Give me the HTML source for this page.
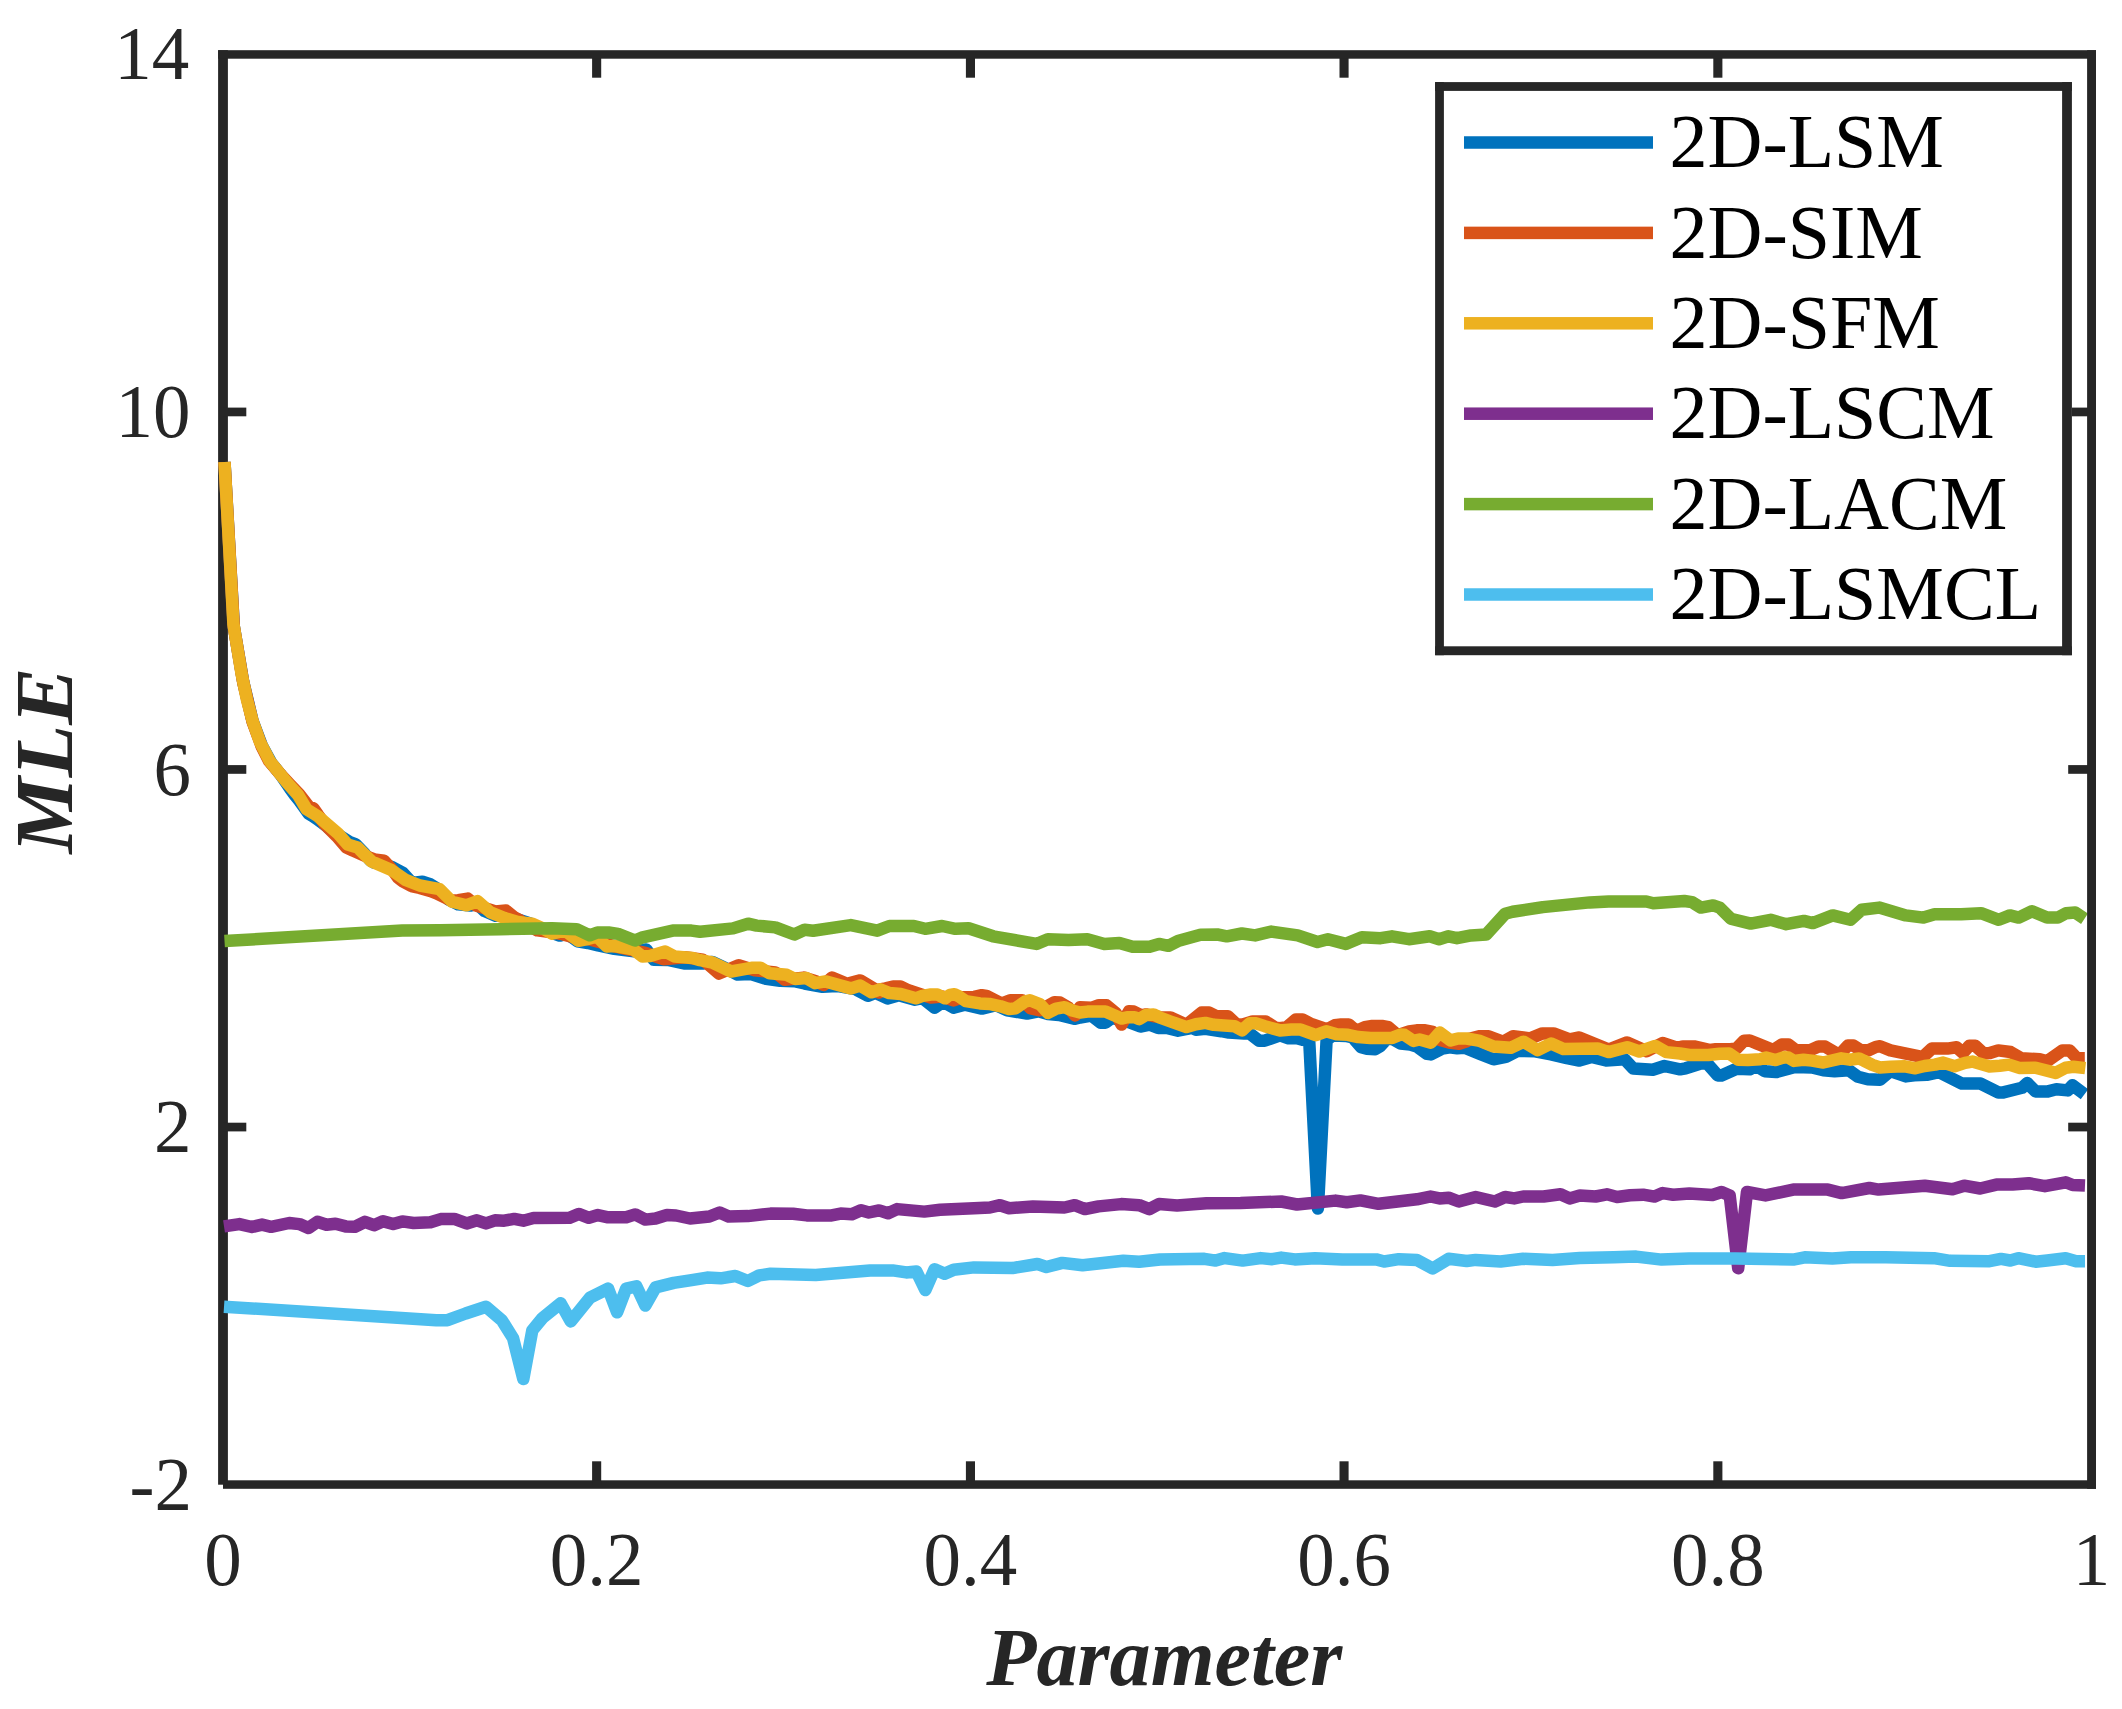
<!DOCTYPE html>
<html lang="en"><head><meta charset="utf-8"><title>MLE vs Parameter</title>
<style>html,body{margin:0;padding:0;background:#fff;width:2122px;height:1709px;overflow:hidden}svg{display:block}text{font-family:"Liberation Serif","Times New Roman",serif}</style></head><body>
<svg width="2122" height="1709" viewBox="0 0 2122 1709">
<rect width="2122" height="1709" fill="#fff"/>
<g fill="#262626">
<rect x="218.1" y="50.2" width="9.8" height="1434.5"/>
<rect x="223" y="1480.3" width="1873" height="8.5"/>
<rect x="592.1" y="1461.3" width="9.1" height="23.3"/>
<rect x="592.1" y="54.4" width="9.1" height="23.3"/>
<rect x="965.9" y="1461.3" width="9.1" height="23.3"/>
<rect x="965.9" y="54.4" width="9.1" height="23.3"/>
<rect x="1339.5" y="1461.3" width="9.1" height="23.3"/>
<rect x="1339.5" y="54.4" width="9.1" height="23.3"/>
<rect x="1713.3" y="1461.3" width="9.1" height="23.3"/>
<rect x="1713.3" y="54.4" width="9.1" height="23.3"/>
<rect x="223.0" y="407.6" width="23.3" height="8.7"/>
<rect x="2068.2" y="407.6" width="23.3" height="8.7"/>
<rect x="223.0" y="765.1" width="23.3" height="8.7"/>
<rect x="2068.2" y="765.1" width="23.3" height="8.7"/>
<rect x="223.0" y="1122.7" width="23.3" height="8.7"/>
<rect x="2068.2" y="1122.7" width="23.3" height="8.7"/>
</g>
<g>
<polyline points="224.5,462.0 233.8,626.4 243.2,681.7 252.6,721.0 261.9,745.7 271.2,762.8 280.0,773.8 289.9,788.3 295.0,795.3 299.3,800.6 308.6,813.6 313.6,816.6 318.0,819.8 327.4,826.8 333.0,831.4 350.0,842.3 355.4,844.1 364.8,853.9 370.0,860.1 374.1,862.5 383.4,864.1 392.8,867.5 402.7,872.8 412.0,883.0 422.5,881.8 430.2,884.2 440.0,890.4 448.9,899.7 458.2,904.4 470.0,905.6 476.9,903.7 484.7,911.1 495.6,915.8 500.0,915.5 505.0,917.0 517.0,919.1 530.0,923.5 520.0,923.0 535.0,926.0 547.0,931.0 559.6,935.6 567.1,933.7 577.5,941.3 588.0,943.0 598.2,945.5 614.3,948.8 634.0,951.2 646.3,949.5 653.8,959.7 668.0,960.0 684.0,963.4 703.8,963.4 712.3,962.0 725.0,968.0 737.7,974.6 750.9,974.1 766.0,978.8 780.1,980.7 794.3,981.2 804.6,983.5 822.5,986.8 836.7,985.9 855.5,989.2 867.8,995.8 875.3,993.0 880.0,994.8 887.5,998.5 898.9,995.2 914.9,999.7 922.4,998.1 934.7,1007.7 943.2,1001.8 953.5,1007.7 964.8,1004.7 981.8,1008.6 995.9,1005.1 1007.2,1010.3 1027.0,1013.6 1038.3,1011.3 1048.0,1014.0 1059.0,1015.0 1075.1,1018.8 1080.0,1017.5 1091.3,1015.6 1100.7,1022.7 1105.4,1022.7 1112.0,1018.0 1129.0,1022.2 1140.3,1026.5 1149.7,1024.6 1158.2,1027.9 1166.7,1027.9 1178.0,1030.7 1192.2,1027.9 1195.9,1029.8 1205.4,1028.8 1221.4,1031.2 1228.9,1032.6 1244.0,1033.5 1249.7,1033.5 1259.1,1040.7 1264.7,1040.7 1280.0,1035.4 1288.5,1038.3 1296.0,1037.9 1302.6,1039.8 1309.2,1040.5 1317.9,1208.5 1326.6,1040.0 1332.8,1035.5 1346.0,1036.0 1352.6,1037.4 1361.1,1047.3 1366.7,1048.7 1375.2,1049.2 1379.9,1046.4 1386.5,1039.3 1392.2,1038.8 1400.6,1043.5 1410.1,1044.5 1416.7,1046.4 1427.0,1053.9 1430.8,1054.4 1442.1,1048.7 1449.7,1047.3 1457.2,1048.2 1464.7,1047.8 1480.0,1053.9 1493.5,1059.3 1505.8,1056.9 1518.0,1050.7 1535.2,1051.3 1551.1,1054.4 1567.0,1058.1 1579.3,1060.5 1591.5,1056.9 1606.2,1060.5 1624.6,1059.3 1633.2,1068.5 1652.8,1069.7 1664.4,1066.0 1680.0,1069.3 1685.7,1068.3 1700.7,1063.6 1707.3,1063.6 1717.7,1075.4 1721.5,1075.4 1736.6,1068.8 1749.7,1069.3 1756.3,1066.0 1764.8,1071.2 1776.1,1072.1 1795.0,1066.9 1812.0,1067.4 1823.3,1070.2 1834.6,1071.2 1848.7,1070.2 1858.1,1076.8 1867.6,1079.2 1880.0,1079.8 1890.4,1071.0 1905.9,1076.4 1914.2,1075.3 1926.7,1074.8 1939.1,1072.2 1961.9,1083.6 1980.6,1083.6 1998.2,1092.4 2003.4,1092.4 2022.0,1087.8 2027.2,1083.0 2035.5,1091.4 2048.0,1091.4 2056.3,1089.3 2067.7,1090.4 2072.5,1085.2 2084.5,1094.2" fill="none" stroke="#0072BD" stroke-width="12.5" stroke-linejoin="round" stroke-linecap="butt"/>
<polyline points="224.5,462.0 233.8,626.8 243.2,682.3 252.6,721.9 261.9,747.0 269.0,761.0 280.6,774.5 289.9,784.5 299.3,794.4 308.6,806.3 313.6,808.5 318.0,814.9 325.0,824.6 336.7,836.3 346.1,847.3 353.0,850.6 364.8,855.7 374.1,859.4 384.0,860.7 392.8,870.4 398.0,877.7 402.1,881.0 411.5,886.1 419.7,887.9 430.2,890.9 436.6,893.3 452.0,900.8 458.2,900.1 467.7,898.6 476.0,905.5 490.0,909.8 495.6,911.4 506.0,910.6 514.3,917.4 520.0,920.4 520.0,921.0 537.4,930.4 550.0,932.0 562.4,934.2 576.0,938.0 589.7,939.4 603.0,943.0 617.1,946.9 628.4,949.3 645.4,952.8 663.3,959.2 685.0,957.3 702.8,959.6 718.9,973.6 738.6,965.3 754.7,970.3 775.4,972.4 784.8,979.8 803.7,977.6 815.0,980.9 823.5,984.9 832.0,977.6 847.0,983.7 860.2,980.4 874.4,988.9 879.1,992.5 880.0,989.5 885.7,988.4 893.2,986.5 900.7,986.5 908.3,990.3 919.6,994.0 930.9,997.6 942.0,996.5 953.5,1000.4 962.0,997.3 974.3,996.9 981.8,995.2 986.5,995.9 1001.6,1003.5 1010.1,1000.3 1022.3,1000.3 1030.8,1008.4 1040.2,1010.3 1054.4,1002.2 1060.0,1002.5 1068.5,1007.7 1075.1,1015.5 1080.0,1007.3 1091.3,1007.8 1098.9,1005.2 1106.4,1005.2 1115.8,1013.0 1121.5,1024.6 1129.0,1011.3 1133.7,1011.6 1141.3,1015.3 1146.0,1014.4 1153.0,1016.0 1160.1,1017.2 1170.5,1017.4 1186.5,1024.8 1201.6,1012.5 1209.1,1012.5 1216.7,1016.3 1228.0,1016.3 1236.5,1024.3 1242.1,1024.8 1252.5,1021.5 1265.7,1021.5 1275.1,1027.6 1280.0,1028.1 1286.6,1027.2 1296.0,1019.4 1302.6,1019.4 1311.1,1023.9 1324.3,1028.4 1329.0,1028.2 1334.7,1025.3 1341.3,1024.4 1348.8,1024.4 1356.3,1031.0 1364.8,1027.2 1372.4,1025.9 1381.8,1025.9 1388.4,1027.2 1397.8,1035.2 1409.1,1031.5 1416.7,1030.3 1425.1,1030.3 1432.7,1031.9 1439.3,1039.8 1449.0,1042.5 1459.0,1043.7 1466.0,1041.5 1470.4,1038.5 1480.0,1036.2 1488.6,1036.3 1503.3,1041.8 1513.1,1036.3 1530.3,1038.4 1542.5,1033.4 1553.6,1033.4 1569.5,1039.3 1579.3,1037.5 1608.7,1049.5 1627.1,1042.4 1640.6,1048.5 1646.7,1051.3 1662.6,1043.0 1675.4,1047.2 1680.0,1047.3 1682.8,1046.4 1694.1,1046.4 1710.2,1050.0 1715.8,1049.2 1730.9,1049.2 1736.6,1048.3 1744.1,1040.7 1749.7,1040.5 1757.3,1043.6 1773.3,1050.0 1781.8,1044.5 1788.4,1044.5 1795.9,1050.2 1810.1,1050.2 1818.5,1046.6 1825.1,1046.6 1839.3,1054.9 1847.8,1045.6 1853.4,1045.6 1861.0,1050.3 1868.5,1050.3 1876.0,1046.9 1880.0,1046.3 1890.4,1050.4 1919.4,1056.4 1923.5,1056.4 1931.8,1048.6 1947.4,1048.6 1956.7,1047.3 1962.9,1053.0 1969.2,1045.8 1975.4,1045.8 1983.7,1053.5 1989.9,1053.0 1998.2,1050.4 2010.6,1052.0 2021.0,1058.2 2039.7,1059.2 2046.9,1061.3 2062.5,1050.4 2069.7,1050.4 2077.0,1058.2 2084.8,1058.2" fill="none" stroke="#D95319" stroke-width="12.5" stroke-linejoin="round" stroke-linecap="butt"/>
<polyline points="224.5,462.0 233.4,624.0 241.6,674.0 247.0,700.0 252.6,721.0 260.0,742.0 269.8,761.1 286.8,782.3 298.1,795.0 306.6,809.2 317.9,816.2 337.7,833.2 347.6,844.5 357.5,847.4 371.6,861.5 391.4,870.0 405.5,879.9 419.7,885.5 439.5,889.1 452.2,901.8 466.3,905.3 477.6,901.1 490.4,912.4 504.5,918.0 518.6,922.3 520.0,922.1 532.3,923.6 544.0,929.0 552.0,933.7 565.0,930.5 578.4,940.8 586.0,939.4 597.0,936.5 606.7,946.5 614.3,946.0 633.1,949.3 642.5,956.4 650.0,955.9 665.1,951.4 674.6,956.5 692.5,958.0 700.0,960.2 712.3,962.5 731.1,971.5 752.8,967.7 760.3,967.7 769.7,973.3 786.7,974.8 795.2,979.0 806.5,978.1 815.0,983.2 825.4,981.4 850.8,988.4 860.2,985.6 871.5,992.3 880.0,989.3 889.4,993.1 900.7,994.0 915.8,998.3 922.4,995.9 930.9,994.5 937.5,994.5 945.0,998.3 949.7,995.0 954.5,994.3 958.2,995.9 965.8,1001.1 979.9,1003.4 989.3,1003.9 1000.6,1006.3 1009.1,1009.1 1015.7,1008.2 1025.1,1001.6 1029.9,1000.3 1040.2,1004.4 1047.8,1012.9 1056.2,1008.6 1064.7,1007.2 1072.3,1010.5 1080.0,1012.5 1087.5,1011.6 1105.4,1011.6 1121.5,1018.6 1127.1,1017.2 1134.7,1017.2 1139.4,1019.1 1146.0,1014.9 1153.5,1014.4 1160.1,1017.7 1170.5,1021.5 1186.5,1027.1 1195.9,1024.3 1205.4,1022.9 1213.8,1024.8 1234.6,1026.2 1242.1,1030.4 1249.7,1023.3 1256.2,1023.3 1264.7,1026.2 1280.0,1030.4 1291.3,1029.6 1300.7,1029.6 1315.8,1035.2 1326.2,1031.3 1336.6,1034.3 1347.9,1034.8 1358.2,1037.1 1370.5,1038.1 1392.2,1037.9 1400.6,1034.5 1404.4,1034.8 1413.4,1040.9 1419.5,1039.5 1430.8,1042.6 1439.8,1032.4 1450.6,1040.4 1458.1,1038.5 1466.6,1038.5 1480.0,1040.9 1493.5,1046.6 1510.7,1047.8 1523.5,1041.7 1537.6,1050.2 1551.1,1043.5 1563.4,1049.0 1597.7,1048.4 1608.7,1052.1 1627.1,1047.2 1639.3,1051.5 1655.3,1045.9 1666.3,1052.1 1680.0,1053.5 1689.4,1055.0 1708.3,1055.0 1719.6,1053.8 1729.0,1053.4 1738.4,1059.8 1747.9,1060.0 1760.1,1059.2 1766.2,1057.6 1775.2,1060.1 1784.1,1057.3 1788.4,1057.6 1794.0,1060.9 1803.5,1059.8 1812.0,1060.6 1823.3,1062.5 1841.2,1058.3 1849.7,1059.7 1859.1,1058.5 1863.8,1060.6 1872.3,1064.9 1880.0,1067.5 1890.4,1066.7 1904.9,1066.3 1915.3,1068.3 1924.6,1066.0 1935.0,1064.6 1943.2,1062.6 1954.6,1066.2 1965.0,1062.9 1972.3,1061.6 1989.4,1066.5 1999.8,1065.7 2009.1,1064.6 2020.0,1068.1 2035.5,1067.7 2055.7,1072.9 2065.6,1067.7 2073.4,1066.7 2085.3,1068.1" fill="none" stroke="#EDB120" stroke-width="12.5" stroke-linejoin="round" stroke-linecap="butt"/>
<polyline points="224.0,1226.4 239.4,1224.1 251.8,1227.0 262.0,1224.6 271.1,1226.8 289.2,1223.0 299.4,1224.1 308.4,1228.0 317.4,1221.8 326.5,1224.8 335.5,1223.7 345.7,1226.4 354.8,1226.8 364.9,1221.8 374.0,1225.2 383.0,1221.2 393.2,1224.1 402.3,1221.4 413.6,1223.0 430.5,1222.3 440.7,1219.1 454.3,1218.9 466.7,1223.4 476.9,1220.3 486.0,1223.4 495.0,1220.3 504.1,1220.7 514.2,1218.9 523.3,1220.7 533.5,1218.0 569.7,1217.8 578.7,1213.9 588.9,1217.8 597.9,1215.1 608.1,1217.3 626.2,1217.3 635.2,1214.4 645.4,1219.6 655.6,1218.5 666.9,1215.1 676.0,1215.5 690.0,1218.5 709.4,1216.5 719.6,1212.5 728.6,1216.5 747.9,1216.1 770.5,1213.6 793.1,1213.8 806.7,1215.4 831.6,1215.4 840.6,1213.6 851.9,1214.3 861.0,1210.2 868.9,1212.5 879.1,1210.4 888.1,1213.2 897.1,1209.1 924.3,1211.6 940.1,1209.8 974.0,1208.2 989.9,1207.5 1000.0,1205.2 1009.1,1208.2 1032.9,1206.4 1064.5,1207.5 1074.7,1205.2 1084.9,1209.1 1098.5,1206.4 1121.1,1204.1 1139.2,1205.2 1149.3,1209.1 1159.0,1204.0 1177.1,1205.6 1206.5,1203.3 1240.5,1202.9 1281.2,1201.5 1297.0,1204.5 1335.5,1200.6 1346.8,1202.2 1360.4,1200.4 1378.5,1203.8 1416.9,1199.3 1430.5,1196.5 1439.5,1198.4 1448.6,1197.7 1458.8,1201.5 1475.7,1197.0 1494.9,1201.5 1505.1,1197.0 1514.2,1198.4 1523.2,1196.5 1543.6,1196.5 1560.5,1194.3 1569.6,1198.4 1579.8,1195.4 1595.6,1196.5 1606.9,1194.3 1617.1,1197.0 1630.0,1195.3 1643.1,1194.7 1654.6,1196.6 1662.7,1193.1 1673.1,1194.7 1689.3,1193.6 1712.4,1195.0 1721.6,1192.0 1729.7,1195.4 1738.2,1268.2 1747.0,1192.0 1765.5,1195.4 1793.2,1189.6 1827.8,1189.6 1841.7,1193.1 1869.4,1188.0 1878.6,1189.6 1924.8,1185.7 1952.5,1189.2 1964.1,1185.7 1980.2,1188.5 1996.4,1184.6 2012.6,1184.6 2028.7,1183.2 2044.9,1186.2 2065.7,1182.3 2072.6,1185.0 2085.0,1185.5" fill="none" stroke="#7E2F8E" stroke-width="12.5" stroke-linejoin="round" stroke-linecap="butt"/>
<polyline points="224.5,941.0 402.3,930.5 440.0,930.2 500.0,929.2 552.0,928.3 576.6,929.2 589.7,935.3 597.3,932.5 608.6,932.5 618.0,933.9 635.0,940.5 641.6,937.7 672.7,930.6 691.5,930.6 700.0,931.7 733.0,928.4 748.1,923.7 756.6,925.6 775.4,927.4 794.3,934.5 804.6,929.8 813.1,930.7 850.8,925.1 877.2,930.7 889.4,926.0 913.9,926.0 925.2,928.8 942.2,926.0 955.4,928.8 968.6,928.2 993.1,936.3 1036.5,943.9 1047.8,939.2 1068.5,940.1 1087.4,939.2 1104.3,943.9 1119.4,942.9 1132.6,946.7 1149.6,946.7 1159.0,943.9 1168.4,945.8 1177.8,941.1 1200.5,934.8 1217.4,934.5 1226.8,936.3 1241.9,933.5 1255.1,935.4 1271.3,931.6 1297.7,935.4 1317.5,942.0 1327.9,939.2 1345.8,943.9 1361.8,937.3 1380.6,938.2 1392.0,936.3 1408.9,939.2 1429.7,936.3 1439.1,939.2 1448.5,936.3 1457.0,938.2 1471.1,935.4 1486.2,934.5 1505.1,913.7 1512.6,911.8 1542.8,907.1 1589.9,902.4 1608.7,901.5 1646.4,901.5 1653.3,903.2 1684.3,901.0 1692.0,902.1 1700.9,907.6 1713.1,905.4 1719.7,907.6 1730.8,918.7 1750.7,923.6 1770.7,919.8 1786.2,924.2 1803.9,920.9 1812.8,923.1 1832.7,915.4 1850.4,919.8 1861.5,909.8 1879.2,907.6 1905.8,915.4 1923.5,917.6 1934.6,914.3 1961.2,914.3 1981.1,913.2 1998.8,919.8 2009.9,915.4 2018.7,917.6 2032.0,911.2 2047.0,917.5 2058.0,917.5 2066.0,913.3 2075.2,912.6 2084.5,918.7" fill="none" stroke="#77AC30" stroke-width="12.5" stroke-linejoin="round" stroke-linecap="butt"/>
<polyline points="224.0,1306.7 436.2,1320.2 447.5,1320.2 465.6,1313.5 486.0,1306.7 501.8,1320.2 513.1,1338.3 523.3,1379.0 532.3,1330.4 542.5,1318.0 560.6,1303.3 570.8,1321.4 590.0,1297.6 608.1,1288.6 617.1,1312.3 626.2,1288.6 636.4,1286.3 645.4,1305.5 655.6,1287.4 673.7,1282.9 690.0,1280.3 707.1,1277.6 720.7,1278.3 735.4,1276.0 747.9,1281.0 759.2,1275.4 770.5,1273.8 815.7,1274.9 870.0,1270.4 892.6,1270.4 906.2,1272.4 916.4,1271.5 925.4,1290.1 934.5,1269.3 944.6,1273.8 953.7,1269.7 974.0,1267.4 1012.5,1268.1 1037.4,1264.0 1046.4,1267.0 1062.3,1262.9 1082.6,1265.2 1123.3,1260.7 1139.2,1261.8 1160.0,1259.5 1204.3,1258.8 1215.6,1260.6 1224.6,1258.1 1242.7,1260.6 1260.8,1258.1 1272.1,1259.2 1281.2,1257.6 1294.8,1259.4 1315.1,1258.3 1342.3,1259.4 1376.2,1259.4 1384.1,1261.5 1398.8,1259.2 1416.9,1259.9 1432.7,1268.5 1448.6,1258.8 1466.7,1261.0 1475.7,1259.9 1500.6,1261.5 1523.2,1258.8 1552.6,1259.9 1579.8,1258.1 1613.7,1257.2 1636.2,1256.6 1661.6,1259.6 1689.3,1258.5 1735.5,1258.5 1793.2,1259.6 1804.7,1257.3 1832.4,1258.5 1850.9,1257.3 1885.6,1257.3 1934.0,1258.2 1950.2,1260.8 1989.5,1261.2 2001.0,1258.9 2010.3,1260.5 2018.3,1258.2 2035.6,1261.7 2047.2,1260.5 2065.7,1258.2 2076.1,1261.2 2085.0,1261.2" fill="none" stroke="#4DBEEE" stroke-width="12.5" stroke-linejoin="round" stroke-linecap="butt"/>
</g>
<g fill="#262626">
<rect x="218.1" y="50.2" width="1877.9" height="8.5"/>
<rect x="2087.1" y="50.2" width="8.9" height="1438.6"/>
</g>
<g fill="#262626" font-size="75px">
<text transform="translate(189.2,79.4) scale(1.0,1.01)" text-anchor="end">14</text>
<text transform="translate(190.5,436.9) scale(1.0,1.01)" text-anchor="end">10</text>
<text transform="translate(190.9,794.5) scale(1.0,1.01)" text-anchor="end">6</text>
<text transform="translate(191.5,1152.0) scale(1.0,1.01)" text-anchor="end">2</text>
<text transform="translate(192.0,1509.6) scale(1.0,1.01)" text-anchor="end">-2</text>
<text transform="translate(223.0,1585.2) scale(1.0,1.01)" text-anchor="middle">0</text>
<text transform="translate(596.7,1585.2) scale(1.0,1.01)" text-anchor="middle">0.2</text>
<text transform="translate(970.4,1585.2) scale(1.0,1.01)" text-anchor="middle">0.4</text>
<text transform="translate(1344.1,1585.2) scale(1.0,1.01)" text-anchor="middle">0.6</text>
<text transform="translate(1717.8,1585.2) scale(1.0,1.01)" text-anchor="middle">0.8</text>
<text transform="translate(2091.5,1585.2) scale(1.0,1.01)" text-anchor="middle">1</text>
</g>
<g fill="#262626" font-size="82.5px" font-weight="bold" font-style="italic">
<text transform="translate(1164.3,1685.3) scale(0.996,1.0)" text-anchor="middle">Parameter</text>
<text transform="translate(71.8,760.5) rotate(-90) scale(1.04,1.0)" text-anchor="middle">MLE</text>
</g>
<g>
<rect x="1435.1" y="82.1" width="636.8" height="573.1" fill="#fff"/>
<g fill="#262626">
<rect x="1435.1" y="82.1" width="8.8" height="573.1"/>
<rect x="2062.1" y="82.1" width="9.8" height="573.1"/>
<rect x="1435.1" y="82.1" width="636.8" height="8.8"/>
<rect x="1435.1" y="646.3" width="636.8" height="8.9"/>
</g>
<g font-size="76px" fill="#000">
<rect x="1464" y="136.25" width="189" height="12.5" fill="#0072BD"/>
<text transform="translate(1669.5,167.2) scale(1.0,1.01)" text-anchor="start">2D-LSM</text>
<rect x="1464" y="226.65" width="189" height="12.5" fill="#D95319"/>
<text transform="translate(1669.5,257.6) scale(1.0,1.01)" text-anchor="start">2D-SIM</text>
<rect x="1464" y="317.05" width="189" height="12.5" fill="#EDB120"/>
<text transform="translate(1669.5,348.0) scale(1.0,1.01)" text-anchor="start">2D-SFM</text>
<rect x="1464" y="407.45" width="189" height="12.5" fill="#7E2F8E"/>
<text transform="translate(1669.5,438.4) scale(1.0,1.01)" text-anchor="start">2D-LSCM</text>
<rect x="1464" y="497.85" width="189" height="12.5" fill="#77AC30"/>
<text transform="translate(1669.5,528.8) scale(1.0,1.01)" text-anchor="start">2D-LACM</text>
<rect x="1464" y="588.25" width="189" height="12.5" fill="#4DBEEE"/>
<text transform="translate(1669.5,619.2) scale(1.0,1.01)" text-anchor="start">2D-LSMCL</text>
</g></g>
</svg></body></html>
